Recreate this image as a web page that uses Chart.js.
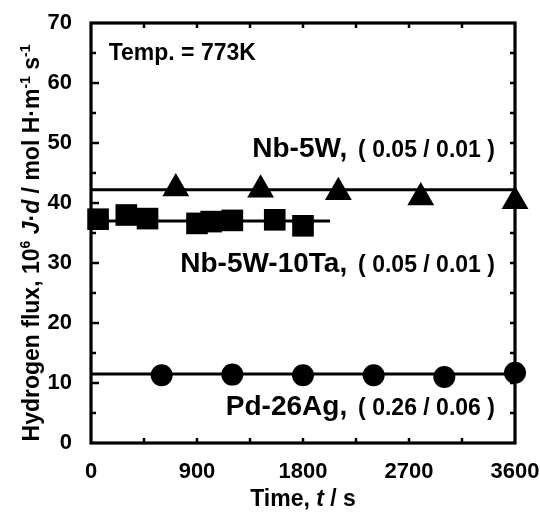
<!DOCTYPE html>
<html>
<head>
<meta charset="utf-8">
<script src="https://cdn.jsdelivr.net/npm/chart.js@4.4.1/dist/chart.umd.min.js"></script>
<style>
html,body{margin:0;padding:0;background:#fff;}
#wrap{width:540px;height:512px;}
</style>
</head>
<body>
<div id="wrap"><canvas id="c" width="540" height="512"></canvas></div>
<script>
// ---- data ----
const xTickValues = [0, 900, 1800, 2700, 3600];
const yTickValues = [0, 10, 20, 30, 40, 50, 60, 70];

const nb5wTime = [720, 1440, 2100, 2800, 3600];
const nb5wFlux = [42.4, 42.2, 41.8, 40.9, 40.3];

const nb5w10taTime = [60, 300, 480, 900, 1020, 1200, 1560, 1800];
const nb5w10taFlux = [37.3, 38.0, 37.4, 36.6, 36.9, 37.1, 37.2, 36.2];

const pdagTime = [600, 1200, 1800, 2400, 3000, 3600];
const pdagFlux = [11.3, 11.4, 11.3, 11.3, 11.0, 11.7];

const nb5wFitTime = [0, 3600];
const nb5wFitFlux = [42.2, 42.2];
const nb5w10taFitTime = [0, 2030];
const nb5w10taFitFlux = [37.0, 37.0];
const pdagFitTime = [0, 3600];
const pdagFitFlux = [11.5, 11.5];

const seriesNames = ["Nb-5W,", "Nb-5W-10Ta,", "Pd-26Ag,"];
const seriesErrors = ["( 0.05 / 0.01 )", "( 0.05 / 0.01 )", "( 0.26 / 0.06 )"];
const tempLabel = "Temp. = 773K";

// ---- helpers ----
const FAM = '"Liberation Sans", Arial, Helvetica, sans-serif';
const pts = (xs, ys) => xs.map((x, i) => ({x: x, y: ys[i]}));

const fitStyle = {showLine: true, borderColor: '#000', borderWidth: 3, pointRadius: 0, fill: false, clip: false};
const markStyle = {showLine: false, backgroundColor: '#000', borderColor: '#000', borderWidth: 0, clip: false};

// frame + inward ticks
const framePlugin = {
  id: 'frame',
  beforeDatasetsDraw(chart) {
    const ctx = chart.ctx, a = chart.chartArea;
    const xs = chart.scales.x, ys = chart.scales.y;
    ctx.save();
    ctx.strokeStyle = '#000';
    ctx.lineWidth = 2.5;
    ctx.lineCap = 'butt';
    for (let v = 450; v < 3600; v += 450) {
      const px = xs.getPixelForValue(v);
      ctx.beginPath();
      ctx.moveTo(px, a.bottom); ctx.lineTo(px, a.bottom - 5);
      ctx.moveTo(px, a.top); ctx.lineTo(px, a.top + 5);
      ctx.stroke();
    }
    for (let v = 5; v < 70; v += 5) {
      const py = ys.getPixelForValue(v);
      const len = (v % 10 === 0) ? 8 : 5;
      ctx.beginPath();
      ctx.moveTo(a.left, py); ctx.lineTo(a.left + len, py);
      ctx.moveTo(a.right, py); ctx.lineTo(a.right - 5, py);
      ctx.stroke();
    }
    ctx.lineWidth = 3.2;
    ctx.strokeRect(a.left, a.top, a.right - a.left, a.bottom - a.top);
    ctx.restore();
  }
};

function drawSegments(ctx, segs, x0, y0) {
  let x = x0;
  segs.forEach(s => {
    ctx.font = s.f;
    ctx.fillText(s.t, x, y0 + (s.dy || 0));
    x += ctx.measureText(s.t).width;
  });
}
function segWidth(ctx, segs) {
  let w = 0;
  segs.forEach(s => { ctx.font = s.f; w += ctx.measureText(s.t).width; });
  return w;
}

const textPlugin = {
  id: 'texts',
  afterDraw(chart) {
    const ctx = chart.ctx, a = chart.chartArea;
    const xs = chart.scales.x, ys = chart.scales.y;
    ctx.save();
    ctx.fillStyle = '#000';
    ctx.textBaseline = 'alphabetic';

    ctx.font = 'bold 23px ' + FAM;
    ctx.textAlign = 'left';
    ctx.fillText(tempLabel, xs.getPixelForValue(150), ys.getPixelForValue(63.8));

    const baseVals = [47.7, 28.5, 4.7];
    for (let i = 0; i < seriesNames.length; i++) {
      const by = ys.getPixelForValue(baseVals[i]);
      ctx.font = 'bold 28px ' + FAM;
      ctx.textAlign = 'right';
      ctx.fillText(seriesNames[i], xs.getPixelForValue(2175), by);
      ctx.font = 'bold 23px ' + FAM;
      ctx.textAlign = 'left';
      ctx.fillText(seriesErrors[i], xs.getPixelForValue(2268), by);
    }

    ctx.textAlign = 'left';
    const B = 'bold 23px ' + FAM, BI = 'italic bold 23px ' + FAM, SUP = 'bold 14px ' + FAM;
    const xt = [{t: 'Time, ', f: B}, {t: 't', f: BI}, {t: ' / s', f: B}];
    const cx = (a.left + a.right) / 2;
    drawSegments(ctx, xt, cx - segWidth(ctx, xt) / 2, 506);

    const yt = [
      {t: 'Hydrogen flux, 10', f: B},
      {t: '6', f: SUP, dy: -9},
      {t: ' ', f: B},
      {t: 'J', f: BI},
      {t: '\u00B7', f: B},
      {t: 'd', f: BI},
      {t: ' / mol H\u00B7m', f: B},
      {t: '-1', f: SUP, dy: -9},
      {t: ' s', f: B},
      {t: '-1', f: SUP, dy: -9}
    ];
    ctx.translate(39, 243);
    ctx.rotate(-Math.PI / 2);
    drawSegments(ctx, yt, -segWidth(ctx, yt) / 2, 0);
    ctx.restore();
  }
};

const tickFont = {family: FAM, size: 22, weight: 'bold'};

new Chart(document.getElementById('c'), {
  type: 'scatter',
  data: {
    datasets: [
      Object.assign({label: 'Nb-5W fit', data: pts(nb5wFitTime, nb5wFitFlux)}, fitStyle),
      Object.assign({label: 'Nb-5W-10Ta fit', data: pts(nb5w10taFitTime, nb5w10taFitFlux)}, fitStyle),
      Object.assign({label: 'Pd-26Ag fit', data: pts(pdagFitTime, pdagFitFlux)}, fitStyle),
      Object.assign({label: 'Nb-5W', data: pts(nb5wTime, nb5wFlux), pointStyle: 'triangle', pointRadius: 15.5}, markStyle),
      Object.assign({label: 'Nb-5W-10Ta', data: pts(nb5w10taTime, nb5w10taFlux), pointStyle: 'rect', pointRadius: 15.3}, markStyle),
      Object.assign({label: 'Pd-26Ag', data: pts(pdagTime, pdagFlux), pointStyle: 'circle', pointRadius: 11}, markStyle)
    ]
  },
  options: {
    responsive: false,
    animation: false,
    devicePixelRatio: 1,
    layout: {padding: {top: 23, right: 25, left: 0, bottom: 0}},
    plugins: {legend: {display: false}, tooltip: {enabled: false}, title: {display: false}},
    elements: {point: {hoverRadius: 0}},
    scales: {
      x: {
        type: 'linear', min: 0, max: 3600,
        afterBuildTicks: s => { s.ticks = xTickValues.map(v => ({value: v})); },
        grid: {display: false}, border: {display: false},
        ticks: {font: tickFont, color: '#000', padding: 8, maxRotation: 0, autoSkip: false, callback: v => String(v)},
        afterFit: s => { s.height = 69; s.paddingLeft = 0; s.paddingRight = 0; }
      },
      y: {
        type: 'linear', min: 0, max: 70,
        afterBuildTicks: s => { s.ticks = yTickValues.map(v => ({value: v})); },
        grid: {display: false}, border: {display: false},
        ticks: {font: tickFont, color: '#000', padding: 11, autoSkip: false, callback: v => String(v)},
        afterFit: s => { s.width = 91; s.paddingTop = 0; s.paddingBottom = 0; }
      }
    }
  },
  plugins: [framePlugin, textPlugin]
});
</script>
</body>
</html>
